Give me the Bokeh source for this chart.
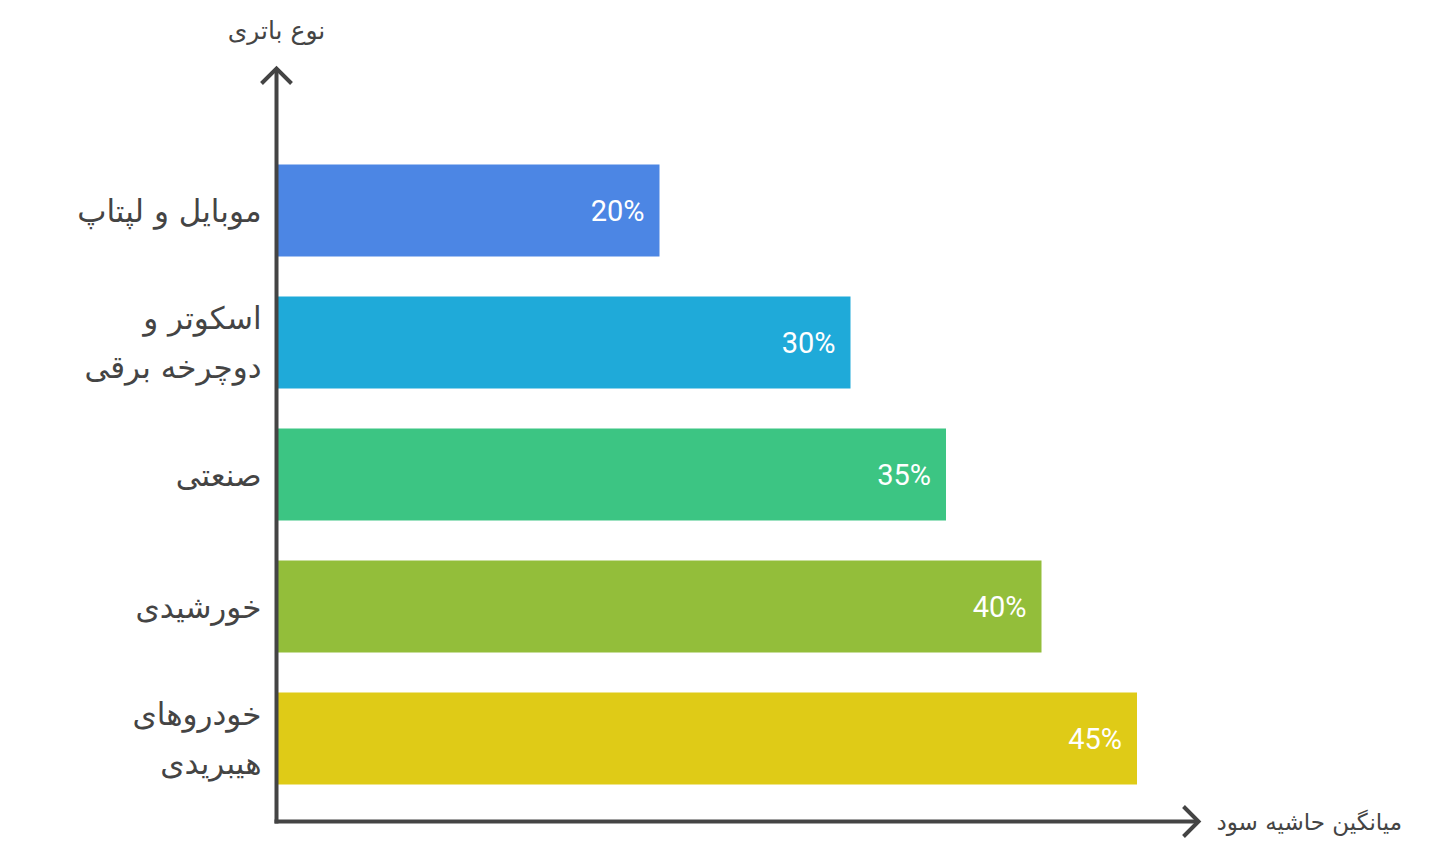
from bokeh.plotting import figure
from bokeh.models import Range1d, ColumnDataSource, Label
from bokeh.core.properties import value
from bokeh.embed import file_html
from bokeh.resources import INLINE

# ---- data ----
categories = ["موبایل و لپتاپ", "اسکوتر و\nدوچرخه برقی", "صنعتی", "خورشیدی", "خودروهای\nهیبریدی"]
margins = [20, 30, 35, 40, 45]
labels = ["20%", "30%", "35%", "40%", "45%"]
colors = ["#4C86E4", "#1FAAD9", "#3CC583", "#93BE3A", "#DFCB17"]
y_title = "نوع باتری"
x_title = "میانگین حاشیه سود"

# ---- layout (pixel geometry of the canvas) ----
W, H = 1436, 844
X0, SX = 277.0, 19.1      # canvas x of 0%, px per 1%
Y0, SY = 210.0, 132.0     # canvas y of first bar centre, px per category step

def dx(px):
    return (px - X0) / SX

def dy(py):
    return (py - Y0) / SY

TEXT = "#444444"
FONT = "DejaVu Sans"

p = figure(width=W, height=H, output_backend="svg", toolbar_location=None,
           x_range=Range1d(dx(0), dx(W)), y_range=Range1d(dy(H), dy(0)),
           min_border=0, outline_line_color=None)
p.axis.visible = False
p.grid.visible = False
p.background_fill_color = "white"
p.border_fill_color = "white"

idx = list(range(len(categories)))
src = ColumnDataSource(dict(y=idx, v=margins, cat=categories, lab=labels, c=colors))

p.hbar(y="y", left=0, right="v", height=92 / SY, fill_color="c", line_color=None, source=src)

# value labels inside bars
p.text(x="v", y="y", text="lab", source=src, x_offset=-15, text_align="right",
       text_baseline="middle", text_color="white", text_font=value("Roboto"),
       text_font_size="29px")

# category labels
p.text(x=0, y="y", text="cat", source=src, x_offset=-16, text_align="right",
       text_baseline="middle", text_color=TEXT, text_font=value(FONT),
       text_font_size="31px", text_line_height=1.38)

# axis lines with chevron arrowheads (decoration)
axis_xs = [
    [dx(276), dx(276)],
    [dx(261), dx(276), dx(291)],
    [dx(274), dx(1197)],
    [dx(1183), dx(1198), dx(1183)],
]
axis_ys = [
    [dy(823), dy(69)],
    [dy(83), dy(68), dy(83)],
    [dy(821), dy(821)],
    [dy(806), dy(821), dy(836)],
]
p.multi_line(xs=axis_xs, ys=axis_ys, line_color=TEXT, line_width=4,
             line_join="miter", line_cap="butt")

p.add_layout(Label(x=dx(276), y=dy(30), text=y_title, text_align="center",
                   text_baseline="middle", text_color=TEXT, text_font=FONT,
                   text_font_size="25px"))
p.add_layout(Label(x=dx(1216), y=dy(821), text=x_title, text_align="left",
                   text_baseline="middle", text_color=TEXT, text_font=FONT,
                   text_font_size="23px"))

open("out.html", "w").write(file_html(p, INLINE))
